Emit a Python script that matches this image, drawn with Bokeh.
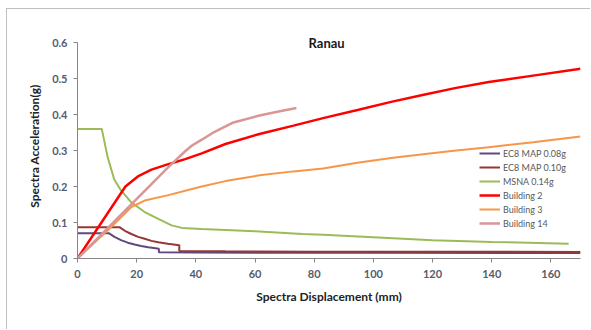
from bokeh.plotting import figure
from bokeh.models import Legend, LegendItem, Label, FixedTicker, Range1d
from bokeh.embed import file_html
from bokeh.resources import INLINE

# ---- data ----
ec8_008_x = [0, 10.7, 12.5, 14.7, 17, 19.3, 21.5, 23.9, 25.8, 27.5, 27.5, 40, 60, 100, 170]
ec8_008_y = [0.07, 0.07, 0.06, 0.051, 0.044, 0.039, 0.035, 0.031, 0.029, 0.027, 0.0176, 0.017, 0.016, 0.016, 0.015]

ec8_010_x = [0, 14.2, 16, 18.2, 20.5, 22.7, 25, 27.3, 30.5, 34.4, 34.4, 50, 80, 120, 170]
ec8_010_y = [0.087, 0.087, 0.077, 0.068, 0.06, 0.055, 0.049, 0.045, 0.041, 0.037, 0.021, 0.02, 0.019, 0.019, 0.018]

msna_x = [0, 8.2, 10.2, 12.4, 14.7, 18.2, 22.7, 27.3, 31.8, 35.3, 42, 60, 76, 83, 100, 120, 140, 166]
msna_y = [0.36, 0.36, 0.281, 0.22, 0.189, 0.156, 0.129, 0.11, 0.092, 0.085, 0.082, 0.076, 0.068, 0.066, 0.059, 0.051, 0.046, 0.041]

b2_x = [0, 16.2, 20.4, 25, 30.7, 36.4, 42, 50, 61.5, 73, 83, 95, 106, 117, 128, 139, 154, 170]
b2_y = [0, 0.2, 0.228, 0.247, 0.262, 0.276, 0.292, 0.318, 0.346, 0.369, 0.39, 0.413, 0.435, 0.455, 0.474, 0.49, 0.508, 0.527]

b3_x = [0, 11.3, 18.2, 22.7, 30.7, 38.7, 42, 50, 61.5, 73, 83, 94.6, 106, 117.5, 128, 139, 154, 170]
b3_y = [0, 0.087, 0.143, 0.161, 0.176, 0.193, 0.2, 0.215, 0.231, 0.242, 0.25, 0.266, 0.279, 0.29, 0.3, 0.309, 0.323, 0.339]

b14_x = [0, 30.7, 36.4, 38.7, 42, 45.5, 52.4, 61.5, 68.4, 74]
b14_y = [0, 0.254, 0.298, 0.314, 0.33, 0.348, 0.377, 0.397, 0.409, 0.418]

x_ticks = [0, 20, 40, 60, 80, 100, 120, 140, 160]
y_ticks = [0, 0.1, 0.2, 0.3, 0.4, 0.5, 0.6]

series = [
    ("EC8 MAP 0.08g", ec8_008_x, ec8_008_y, "#604A7B", 2),
    ("EC8 MAP 0.10g", ec8_010_x, ec8_010_y, "#953735", 2),
    ("MSNA 0.14g", msna_x, msna_y, "#9BBB59", 2),
    ("Building 2", b2_x, b2_y, "#FF0000", 2.5),
    ("Building 3", b3_x, b3_y, "#F79646", 2),
    ("Building 14", b14_x, b14_y, "#D99694", 2.5),
]

p = figure(width=584, height=321, output_backend="svg", toolbar_location=None,
           x_range=Range1d(0, 170), y_range=Range1d(0, 0.625),
           min_border_left=70, min_border_right=11, min_border_top=24, min_border_bottom=72)
p.margin = (8, 0, 0, 6)
p.styles = {"border-left": "1px solid #c0c0c0", "border-top": "1px solid #c0c0c0"}
p.outline_line_color = None
p.xgrid.grid_line_color = None
p.ygrid.grid_line_color = None
p.background_fill_color = "white"
p.border_fill_color = "white"

items = []
for name, xs, ys, col, w in series:
    r = p.line(xs, ys, line_color=col, line_width=w)
    items.append(LegendItem(label=name, renderers=[r]))

legend = Legend(items=items, location=(402, 28), padding=0, margin=0, spacing=0,
                glyph_width=21, glyph_height=14, label_height=14, label_standoff=3,
                label_text_font="Lato", label_text_font_size="9px", label_text_color="#595959",
                border_line_color=None, background_fill_alpha=0)
p.add_layout(legend, "center")

for ax in (p.xaxis[0], p.yaxis[0]):
    ax.axis_line_color = "#868686"
    ax.major_tick_line_color = "#868686"
    ax.major_tick_out = 4
    ax.major_tick_in = 0
    ax.minor_tick_line_color = None
    ax.major_label_text_font = "Lato"
    ax.major_label_text_font_style = "bold"
    ax.major_label_text_font_size = "11px"
    ax.major_label_text_color = "#555c6e"
    ax.axis_label_text_font = "Lato"
    ax.axis_label_text_font_style = "bold"
    ax.axis_label_text_font_size = "12px"
    ax.axis_label_text_color = "#222222"

p.yaxis.bounds = (0, 0.6)
p.xaxis.ticker = FixedTicker(ticks=x_ticks)
p.yaxis.ticker = FixedTicker(ticks=y_ticks)
p.yaxis.major_label_overrides = {0: "0"}
p.xaxis.major_label_standoff = 7
p.yaxis.major_label_standoff = 6
p.xaxis.axis_label = "Spectra Displacement (mm)"
p.yaxis.axis_label = "Spectra Acceleration(g)"
p.xaxis.axis_label_standoff = 8
p.yaxis.axis_label_standoff = 7

title = Label(x=84.2, y=0.598, text="Ranau", text_align="center", text_baseline="middle",
              text_font="Lato", text_font_style="bold", text_font_size="13px", text_color="#1a1a1a")
p.add_layout(title)

open("out.html", "w").write(file_html(p, INLINE))
